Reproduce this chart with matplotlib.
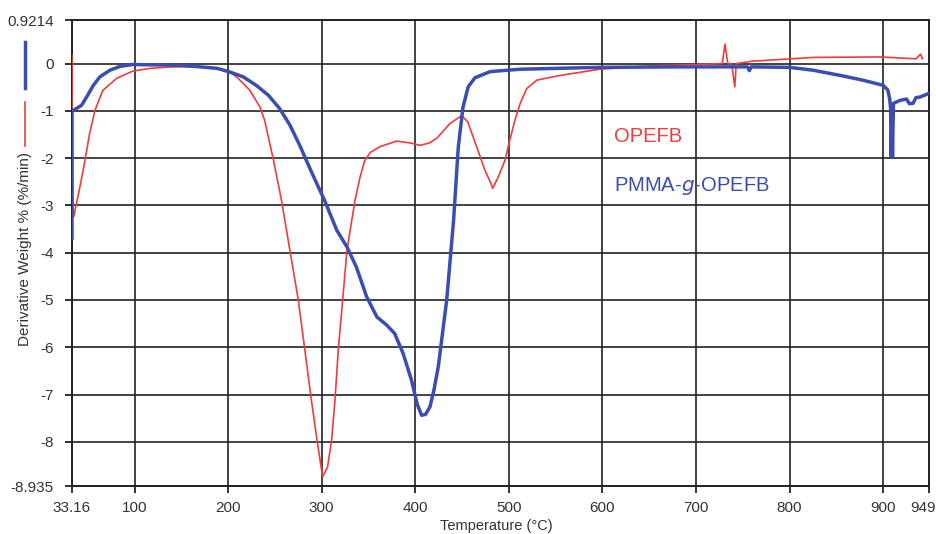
import matplotlib
matplotlib.use('Agg')
import matplotlib.pyplot as plt
import matplotlib.transforms as mtransforms
from matplotlib.lines import Line2D

plt.rcParams['font.family'] = ['Liberation Sans', 'DejaVu Sans']

# OPEFB (red) - temperature (C) and derivative weight (%/min)
opefb_t = [33.16, 33.3, 34, 35, 38, 41.7, 47, 52, 57.7, 66, 81, 98, 117, 140, 170, 188,
           200, 209, 223, 234, 239, 248, 257, 266, 275, 282, 289, 295, 301, 306.3, 310.6,
           314.2, 317.7, 322.4, 327, 335.6, 341, 346, 352, 362, 380, 395, 405, 415, 423,
           437, 449.6, 456, 465.6, 474.5, 481.6, 482.7, 488.7, 496, 501, 506.5, 512, 519,
           530, 555, 597, 650, 700, 728, 731, 734, 738, 741.5, 743, 760, 825, 897, 935,
           940, 942]
opefb_d = [0.17, -1.5, -3.0, -3.24, -2.95, -2.6, -2.05, -1.48, -0.99, -0.57, -0.31, -0.16,
           -0.1, -0.07, -0.07, -0.1, -0.16, -0.28, -0.56, -0.92, -1.2, -2.0, -2.89, -3.95,
           -5.0, -6.06, -7.12, -7.96, -8.74, -8.53, -7.96, -7.12, -6.06, -5.0, -3.95, -2.89,
           -2.4, -2.05, -1.88, -1.76, -1.64, -1.68, -1.73, -1.68, -1.58, -1.27, -1.1, -1.23,
           -1.76, -2.26, -2.57, -2.64, -2.4, -2.04, -1.62, -1.2, -0.85, -0.53, -0.35, -0.25,
           -0.12, -0.05, -0.02, 0.0, 0.41, 0.0, 0.0, -0.49, 0.0, 0.05, 0.13, 0.14, 0.1,
           0.2, 0.1]

# PMMA-g-OPEFB (blue)
pmma_t = [33.16, 33.2, 38, 43.5, 49, 56, 63, 73.8, 84.5, 98, 130, 152, 188, 202, 216, 230,
          243, 255, 266, 277, 287, 295, 303, 316, 327, 337, 348, 359, 369.4, 378, 387, 396,
          402, 406.8, 411, 415.7, 420, 424.6, 433.6, 441, 446, 451, 456.6, 463.8, 480, 512,
          597, 683, 755, 757, 759, 800, 825, 854, 878, 900, 905, 907, 908, 908.5, 909.5,
          910, 911, 918, 925, 928, 932, 935, 939, 949]
pmma_d = [-3.7, -1.0, -0.95, -0.88, -0.7, -0.46, -0.28, -0.14, -0.06, -0.02, -0.03, -0.04,
          -0.1, -0.18, -0.28, -0.46, -0.67, -0.95, -1.3, -1.75, -2.2, -2.55, -2.89, -3.52,
          -3.88, -4.3, -4.93, -5.36, -5.53, -5.71, -6.13, -6.7, -7.2, -7.44, -7.42, -7.26,
          -6.9, -6.41, -5.0, -3.3, -1.76, -0.92, -0.49, -0.3, -0.17, -0.12, -0.08, -0.07,
          -0.07, -0.15, -0.07, -0.08, -0.14, -0.25, -0.35, -0.46, -0.56, -0.75, -0.95,
          -1.97, -1.2, -1.97, -0.84, -0.78, -0.75, -0.85, -0.84, -0.72, -0.71, -0.63]

x_ticks = [33.16, 100, 200, 300, 400, 500, 600, 700, 800, 900, 949]
x_labels = ['33.16', '100', '200', '300', '400', '500', '600', '700', '800', '900', '949']
y_ticks = [0.9214, 0, -1, -2, -3, -4, -5, -6, -7, -8, -8.935]
y_labels = ['0.9214', '0', '-1', '-2', '-3', '-4', '-5', '-6', '-7', '-8', '-8.935']

red = '#f23b3b'
blue = '#3b4db3'

fig = plt.figure(figsize=(9.36, 5.34), dpi=100)
ax = fig.add_axes([72 / 936, 1 - 486 / 534, (929 - 72) / 936, (486 - 20) / 534])

ax.plot(opefb_t, opefb_d, color=red, lw=1.2, zorder=3)
ax.plot(pmma_t, pmma_d, color=blue, lw=2.5, zorder=4)

ax.set_xlim(33.16, 949)
ax.set_ylim(-8.935, 0.9214)
ax.set_xticks(x_ticks)
ax.set_xticklabels(x_labels)
ax.set_yticks(y_ticks)
ax.set_yticklabels(y_labels)
ax.tick_params(axis='both', labelsize=11, length=5, width=1.3, color='#222222',
               labelcolor='#333333')
ax.tick_params(axis='x', pad=6)
ax.tick_params(axis='y', pad=8)
ax.grid(True, color='#222222', lw=1.2)
for s in ax.spines.values():
    s.set_color('#222222')
    s.set_linewidth(1.4)

# nudge the last x label so it stays inside the figure
last = ax.get_xticklabels()[-1]
last.set_transform(last.get_transform() +
                   mtransforms.ScaledTranslation(-6 / 100, 0, fig.dpi_scale_trans))

ax.text(612, -1.55, 'OPEFB', color=red, fontsize=14.5, va='center', ha='left')
ax.text(612, -2.6, r'PMMA-$\mathit{g}$-OPEFB', color=blue, fontsize=14.5,
        va='center', ha='left')

fig.text(25 / 936, 1 - 249 / 534, 'Derivative Weight % (%/min)', rotation=90,
         fontsize=11, color='#333333', ha='center', va='center')
fig.text(496 / 936, 1 - 526 / 534, 'Temperature (\u00b0C)', fontsize=10.5,
         color='#333333', ha='center', va='center')
fig.add_artist(Line2D([25 / 936, 25 / 936], [1 - 42 / 534, 1 - 88 / 534],
                      color=blue, lw=2.5))
fig.add_artist(Line2D([25 / 936, 25 / 936], [1 - 102 / 534, 1 - 146 / 534],
                      color=red, lw=1.2))

fig.savefig('out.png', dpi=100)
